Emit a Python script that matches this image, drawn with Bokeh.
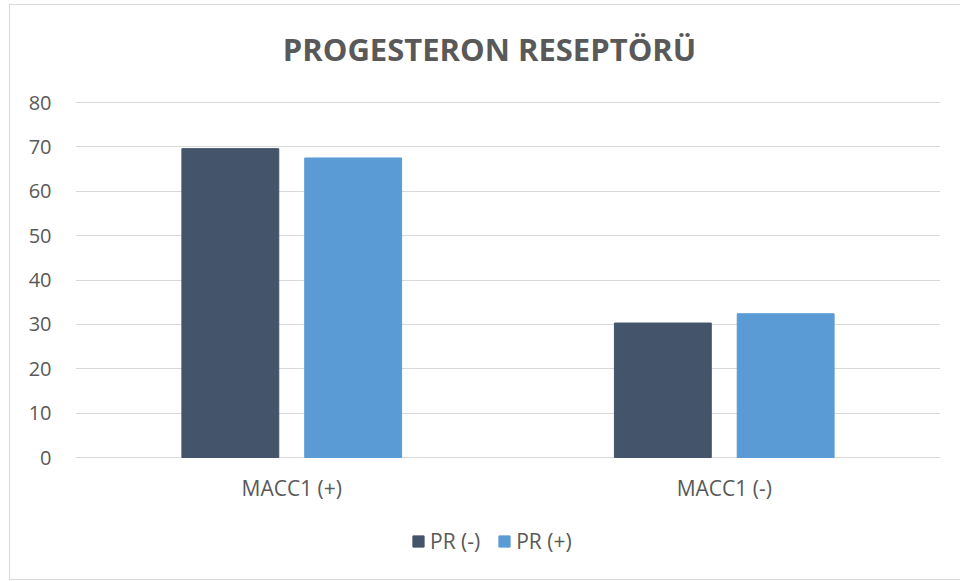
from bokeh.plotting import figure
from bokeh.models import FactorRange, Range1d, FixedTicker, Legend, LegendItem, Label, ColumnDataSource
from bokeh.core.properties import value
from bokeh.transform import dodge
from bokeh.embed import file_html
from bokeh.resources import INLINE

categories = ["MACC1 (+)", "MACC1 (-)"]
series_names = ["PR (-)", "PR (+)"]
pr_neg = [69.6, 30.3]
pr_pos = [67.5, 32.4]
y_ticks = [0, 10, 20, 30, 40, 50, 60, 70, 80]
title_text = "PROGESTERON RESEPTÖRÜ"

TEXT = "#595959"
GRID = "#d9d9d9"
DARK = "#44546A"
LIGHT = "#5B9BD5"
FONT = "Open Sans"

W, H = 960, 581
LEFT, RIGHT = 75, 20
AX_TOP_PX, AX_BOT_PX = 102, 457      # pixel rows of 80 and 0
px_per_unit = (AX_BOT_PX - AX_TOP_PX) / 80.0
y_start = -(H - AX_BOT_PX) / px_per_unit
y_end = 80 + AX_TOP_PX / px_per_unit
cat_px = (W - LEFT - RIGHT) / float(len(categories))

src = ColumnDataSource(dict(cat=categories, neg=pr_neg, pos=pr_pos,
                            lab_y=[-(487 - AX_BOT_PX) / px_per_unit] * len(categories)))

line = "linear-gradient(#d9d9d9, #d9d9d9)"
frame_css = {
    "background-color": "white",
    "background-image": ", ".join([line] * 3),
    "background-position": "9px 4px, 9px 4px, 9px 579px",
    "background-size": "1px 576px, 951px 1px, 951px 1px",
    "background-repeat": "no-repeat",
}

p = figure(width=W, height=H, x_range=FactorRange(factors=categories, range_padding=0),
           y_range=Range1d(y_start, y_end), output_backend="svg", toolbar_location=None,
           x_axis_location=None, styles=frame_css,
           min_border_left=LEFT, min_border_right=RIGHT, min_border_top=0, min_border_bottom=0)
p.outline_line_color = None
p.background_fill_color = None
p.border_fill_color = None

r1 = p.vbar(x=dodge("cat", -0.142, range=p.x_range), top="neg", width=0.224, source=src,
            fill_color=DARK, line_color=DARK)
r2 = p.vbar(x=dodge("cat", 0.142, range=p.x_range), top="pos", width=0.224, source=src,
            fill_color=LIGHT, line_color=LIGHT)

# category labels under the zero line
p.text(x="cat", y="lab_y", text="cat", source=src, text_font=value(FONT), text_font_size="21px",
       text_color=TEXT, text_align="center", text_baseline="middle")

p.xgrid.grid_line_color = None
p.ygrid.grid_line_color = GRID
p.ygrid.grid_line_width = 1

p.yaxis.ticker = FixedTicker(ticks=y_ticks)
p.yaxis.axis_line_color = None
p.yaxis.major_tick_line_color = None
p.yaxis.minor_tick_line_color = None
p.yaxis.major_label_standoff = 18
p.yaxis.major_label_text_font = FONT
p.yaxis.major_label_text_font_size = "20px"
p.yaxis.major_label_text_color = TEXT

title = Label(x=(489 - LEFT) / cat_px, y=80 + (102 - 48) / px_per_unit, text=title_text,
              text_font=FONT, text_font_size="31px", text_font_style="bold",
              text_color=TEXT, text_align="center", text_baseline="middle")
p.add_layout(title)

legend = Legend(items=[LegendItem(label=series_names[0], renderers=[r1]),
                       LegendItem(label=series_names[1], renderers=[r2])],
                orientation="horizontal", location=(411 - LEFT, 26))
legend.glyph_width = 14
legend.glyph_height = 14
legend.label_standoff = 5
legend.spacing = 17
legend.padding = 0
legend.margin = 0
legend.border_line_color = None
legend.background_fill_alpha = 0
legend.label_text_font = FONT
legend.label_text_font_size = "21px"
legend.label_text_color = TEXT
p.add_layout(legend, "center")

open("out.html", "w").write(file_html(p, INLINE))
